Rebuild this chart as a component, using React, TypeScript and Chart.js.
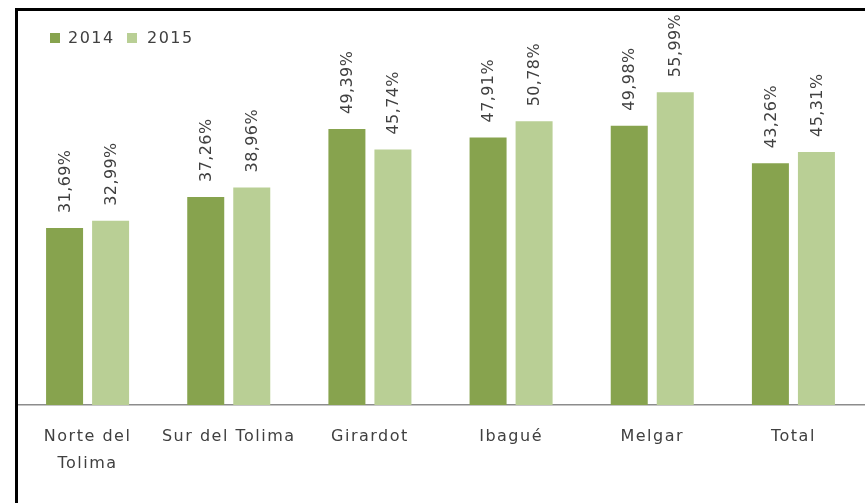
import React, { useEffect, useRef } from "react";
import { Chart, registerables } from "chart.js";

Chart.register(...registerables);

const categories: (string | string[])[] = [
  ["Norte del", "Tolima"],
  "Sur del Tolima",
  "Girardot",
  "Ibagué",
  "Melgar",
  "Total",
];
const seriesNames = ["2014", "2015"];
const values2014 = [31.69, 37.26, 49.39, 47.91, 49.98, 43.26];
const values2015 = [32.99, 38.96, 45.74, 50.78, 55.99, 45.31];
const colors = ["#87A34E", "#B9CF95"];

const FONT = "'DejaVu Sans', sans-serif";
const SPACING = "1.5px";
const LABEL_SPACING = "0.4px";

const fmt = (v: number) => v.toFixed(2).replace(".", ",") + "%";

const decorPlugin = {
  id: "decor",
  beforeUpdate(chart: any) {
    (chart.ctx as any).letterSpacing = SPACING;
  },
  beforeDraw(chart: any) {
    (chart.ctx as any).letterSpacing = SPACING;
  },
  afterDatasetsDraw(chart: any) {
    const ctx = chart.ctx;
    ctx.save();
    (ctx as any).letterSpacing = LABEL_SPACING;
    ctx.font = `16px ${FONT}`;
    ctx.fillStyle = "#404040";
    chart.data.datasets.forEach((ds: any, di: number) => {
      const meta = chart.getDatasetMeta(di);
      meta.data.forEach((bar: any, i: number) => {
        const v = ds.data[i] as number;
        ctx.save();
        ctx.translate(bar.x + 1, bar.y - 15);
        ctx.rotate(-Math.PI / 2);
        ctx.textAlign = "left";
        ctx.textBaseline = "middle";
        ctx.fillText(fmt(v), 0, 0);
        ctx.restore();
      });
    });
    ctx.restore();
  },
  afterDraw(chart: any) {
    const ctx = chart.ctx;
    ctx.save();
    ctx.fillStyle = "#000000";
    ctx.fillRect(15, 8, 850, 3);
    ctx.fillRect(15, 8, 3, 495);
    (ctx as any).letterSpacing = SPACING;
    ctx.font = `16px ${FONT}`;
    ctx.textAlign = "left";
    ctx.textBaseline = "middle";
    const items = [
      { box: 50, text: 68 },
      { box: 127, text: 147 },
    ];
    items.forEach((it, i) => {
      ctx.fillStyle = colors[i];
      ctx.fillRect(it.box, 33, 10, 10);
      ctx.fillStyle = "#404040";
      ctx.fillText(seriesNames[i], it.text, 39);
    });
    ctx.restore();
  },
};

export default function App() {
  const ref = useRef<HTMLCanvasElement | null>(null);
  useEffect(() => {
    if (!ref.current) return;
    const chart = new Chart(ref.current, {
      type: "bar",
      data: {
        labels: categories,
        datasets: [
          {
            label: seriesNames[0],
            data: values2014,
            backgroundColor: colors[0],
            categoryPercentage: 0.652,
            barPercentage: 0.804,
          },
          {
            label: seriesNames[1],
            data: values2015,
            backgroundColor: colors[1],
            categoryPercentage: 0.652,
            barPercentage: 0.804,
          },
        ],
      },
      options: {
        responsive: false,
        animation: false,
        devicePixelRatio: 1,
        layout: { padding: { left: 17, right: 1, top: 14, bottom: 0 } },
        plugins: {
          legend: { display: false },
          tooltip: { enabled: false },
        },
        scales: {
          x: {
            grid: { display: false, drawTicks: false },
            border: { display: true, color: "#8C8C8C", width: 1.5 },
            ticks: {
              padding: 19,
              color: "#404040",
              font: { family: FONT, size: 16, lineHeight: 1.65 },
              maxRotation: 0,
              autoSkip: false,
            },
            afterFit: (scale: any) => {
              scale.height = 98;
            },
          },
          y: {
            display: false,
            min: 0,
            max: 70,
          },
        },
      },
      plugins: [decorPlugin],
    });
    return () => chart.destroy();
  }, []);
  return (
    <div style={{ position: "absolute", left: 0, top: 0, width: 865, height: 503, background: "#fff" }}>
      <canvas ref={ref} width={865} height={503} style={{ display: "block", width: 865, height: 503 }} />
    </div>
  );
}
